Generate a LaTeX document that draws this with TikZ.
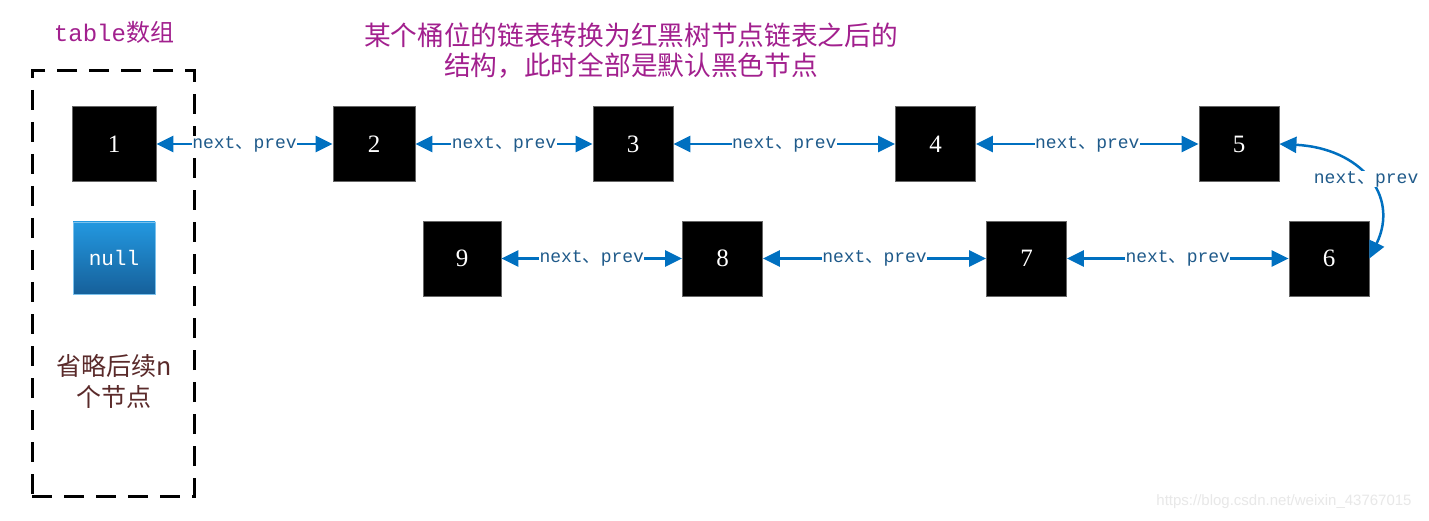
\documentclass[tikz,border=0pt]{standalone}
\usepackage{fontspec}
\setmainfont{Liberation Serif}
\setsansfont{Liberation Sans}
\newfontfamily\cjk{Noto Sans CJK SC}
\newfontfamily\monof{Liberation Mono}
\usetikzlibrary{arrows.meta}
\definecolor{arrowblue}{HTML}{0070C0}
\definecolor{lblblue}{HTML}{1F5A8A}
\definecolor{titlepurple}{HTML}{A2208E}
\definecolor{brownred}{HTML}{5A2A2A}
\definecolor{nulltop}{HTML}{2398E0}
\definecolor{nullbot}{HTML}{16609A}
\newcommand{\nplabel}{{\monof next}{\cjk 、}{\monof prev}}
\begin{document}
\begin{tikzpicture}[x=1pt,y=-1pt,
  nodebox/.style={draw=gray!80!black, line width=0.8pt, fill=black, text=white,
    minimum width=80pt, minimum height=75pt, inner sep=0pt,
    font=\fontsize{25}{25}\selectfont},
  link/.style={draw=arrowblue, line width=2.5pt,
    {Triangle[length=17pt,width=16pt]}-{Triangle[length=17pt,width=16pt]}},
  lbl/.style={fill=white, text=lblblue, inner sep=0.5pt,
    font=\fontsize{18}{18}\selectfont},
  arraybox/.style={draw=black, line width=3pt, dash pattern=on 20pt off 12pt,
    minimum width=162pt, minimum height=425pt, inner sep=0pt},
  nullbox/.style={draw=nulltop!60!white, line width=0.8pt, top color=nulltop,
    bottom color=nullbot, text=white, minimum width=82pt, minimum height=72pt,
    inner sep=0pt, font=\monof\fontsize{21}{21}\selectfont},
  titletext/.style={text=titlepurple, align=center,
    font=\cjk\fontsize{26.7}{30}\selectfont}
]
\useasboundingbox (0,0) rectangle (1429,521);
\fill[white] (0,0) rectangle (1429,521);

% table array
\node[arraybox] (arr) at (113,283.5) {};
\node[text=titlepurple, font=\fontsize{24}{24}\selectfont] (tabtitle) at (114,32)
  {{\monof table}{\cjk 数组}};
\node[nodebox, minimum width=84pt] (n1) at (114,144) {1};
\node[nullbox] (null) at (114,258) {null};
\node[text=brownred, align=center, font=\cjk\fontsize{25}{31}\selectfont] (omit) at (114,381)
  {省略后续n\\个节点};

% title
\node[titletext] (title) at (631,51) {某个桶位的链表转换为红黑树节点链表之后的\\结构，此时全部是默认黑色节点};

% nodes
\node[nodebox, minimum width=82pt] (n2) at (374,144) {2};
\node[nodebox] (n3) at (633,144) {3};
\node[nodebox] (n4) at (935.5,144) {4};
\node[nodebox] (n5) at (1239,144) {5};
\node[nodebox] (n6) at (1329,258.5) {6};
\node[nodebox, minimum width=78pt] (n9) at (462,258.5) {9};
\node[nodebox] (n8) at (722.5,258.5) {8};
\node[nodebox] (n7) at (1026.5,258.5) {7};

% links
\draw[link] (n1) -- node[lbl] {\nplabel} (n2);
\draw[link] (n2) -- node[lbl] {\nplabel} (n3);
\draw[link] (n3) -- node[lbl] {\nplabel} (n4);
\draw[link] (n4) -- node[lbl] {\nplabel} (n5);
\draw[link] (n9) -- node[lbl] {\nplabel} (n8);
\draw[link] (n8) -- node[lbl] {\nplabel} (n7);
\draw[link] (n7) -- node[lbl] {\nplabel} (n6);
\draw[link] (n5.east) .. controls (1360,148) and (1400,195) .. node[lbl, pos=0.5] {\nplabel} (n6.east);

% watermark
\node[text=black!9, font=\sffamily\fontsize{15}{15}\selectfont] (wm) at (1284,502)
  {https://blog.csdn.net/weixin\_43767015};
\end{tikzpicture}
\end{document}
